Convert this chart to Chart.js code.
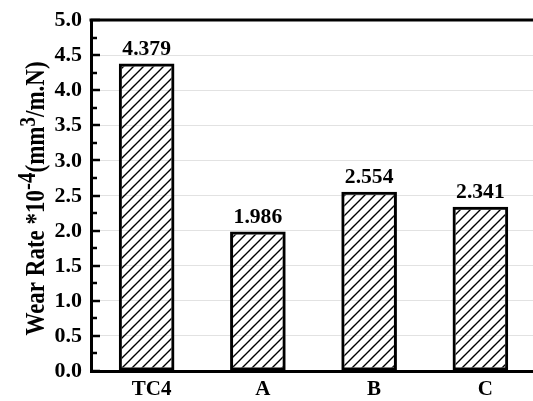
<!DOCTYPE html>
<html>
<head>
<meta charset="utf-8">
<script src="https://cdn.jsdelivr.net/npm/chart.js@4/dist/chart.umd.min.js"></script>
<style>
  html,body{margin:0;padding:0;background:#fff;overflow:hidden;}
  #wrap{position:relative;width:536px;height:401px;}
</style>
</head>
<body>
<div id="wrap"><canvas id="c"></canvas></div>
<script>
// Taux d'usure par échantillon
const categories = ["TC4","A","B","C"];
const wearRate   = [4.379, 1.986, 2.554, 2.341];
const valueLabels = ["4.379","1.986","2.554","2.341"];
const yTicks = [0,0.5,1,1.5,2,2.5,3,3.5,4,4.5,5];

const FONT = "'Liberation Serif','Times New Roman',serif";

function hatch(){
  const s = 10, p = document.createElement("canvas");
  p.width = s; p.height = s;
  const g = p.getContext("2d");
  g.strokeStyle = "#000"; g.lineWidth = 1.4; g.lineCap = "square";
  g.beginPath();
  g.moveTo(0, s); g.lineTo(s, 0);
  g.moveTo(-s/2, s/2); g.lineTo(s/2, -s/2);
  g.moveTo(s/2, s*1.5); g.lineTo(s*1.5, s/2);
  g.stroke();
  return g.createPattern(p, "repeat");
}

// texte légèrement élargi (la police du graphe d'origine est un peu plus large)
function txt(ctx, t, x, y, size, sx, align, base){
  ctx.save();
  ctx.font = `bold ${size}px ${FONT}`;
  ctx.textAlign = align; ctx.textBaseline = base;
  ctx.translate(x, y); ctx.scale(sx, 1);
  ctx.fillText(t, 0, 0);
  ctx.restore();
}

const deco = {
  id:"deco",
  afterDraw(chart){
    const {ctx, chartArea:a, scales:{x, y}} = chart;
    ctx.save();
    ctx.strokeStyle = "#000"; ctx.fillStyle = "#000"; ctx.lineWidth = 3;
    ctx.beginPath(); ctx.moveTo(a.left-1.5, a.top); ctx.lineTo(a.right+2, a.top); ctx.stroke();
    // ticks majeurs et mineurs vers l'intérieur
    ctx.lineWidth = 2.5;
    for (let v = 0; v <= 5.001; v += 0.25){
      const py = Math.round(y.getPixelForValue(v));
      const major = Math.abs(v*2 - Math.round(v*2)) < 1e-6;
      ctx.beginPath(); ctx.moveTo(a.left, py); ctx.lineTo(a.left + (major ? 9 : 6), py); ctx.stroke();
    }
    yTicks.forEach(v=>txt(ctx, v.toFixed(1), a.left-9, y.getPixelForValue(v)+1, 20, 1.1, "right", "middle"));
    categories.forEach((c,i)=>txt(ctx, c, x.getPixelForValue(i)+5, a.bottom+8, 21, 1, "center", "top"));
    chart.getDatasetMeta(0).data.forEach((b,i)=>{
      txt(ctx, valueLabels[i], b.x, b.y - 4, 20, 1.08, "center", "bottom");
    });
    // titre de l'axe Y, avec exposants
    const parts = [
      {t:"Wear Rate *10", sz:23, up:0},
      {t:"-4", sz:21, up:9},
      {t:"(mm", sz:23, up:0},
      {t:"3", sz:19, up:9},
      {t:"/m.N)", sz:23, up:0},
    ];
    const s = 1.2;
    let total = 0;
    parts.forEach(p=>{ ctx.font = `bold ${p.sz}px ${FONT}`; p.w = ctx.measureText(p.t).width; total += p.w; });
    ctx.translate(44, 198.5); ctx.rotate(-Math.PI/2); ctx.scale(1, s);
    ctx.textAlign = "left"; ctx.textBaseline = "alphabetic";
    let px = -total/2;
    parts.forEach(p=>{ ctx.font = `bold ${p.sz}px ${FONT}`; ctx.fillText(p.t, px, -p.up/s); px += p.w; });
    ctx.restore();
  }
};

new Chart(document.getElementById("c"), {
  type:"bar",
  data:{
    labels: categories,
    datasets:[{
      data: wearRate,
      backgroundColor: hatch(),
      borderColor:"#000", borderWidth:3, borderSkipped:false,
      categoryPercentage:1, barPercentage:0.5,
    }],
  },
  options:{
    responsive:true, maintainAspectRatio:false, animation:false,
    layout:{padding:{top:20, left:0, right:0, bottom:0}},
    plugins:{legend:{display:false}, tooltip:{enabled:false}},
    scales:{
      x:{
        grid:{display:false, drawTicks:false},
        border:{color:"#000", width:3},
        ticks:{display:false},
        afterFit(s){ s.height = 30; },
      },
      y:{
        min:0, max:5,
        afterBuildTicks(s){ s.ticks = yTicks.map(v=>({value:v})); },
        grid:{color:"#e2e2e2", lineWidth:1, drawTicks:false},
        border:{color:"#000", width:3},
        ticks:{display:false},
        afterFit(s){ s.width = 91; },
      },
    },
  },
  plugins:[deco],
});
</script>
</body>
</html>
